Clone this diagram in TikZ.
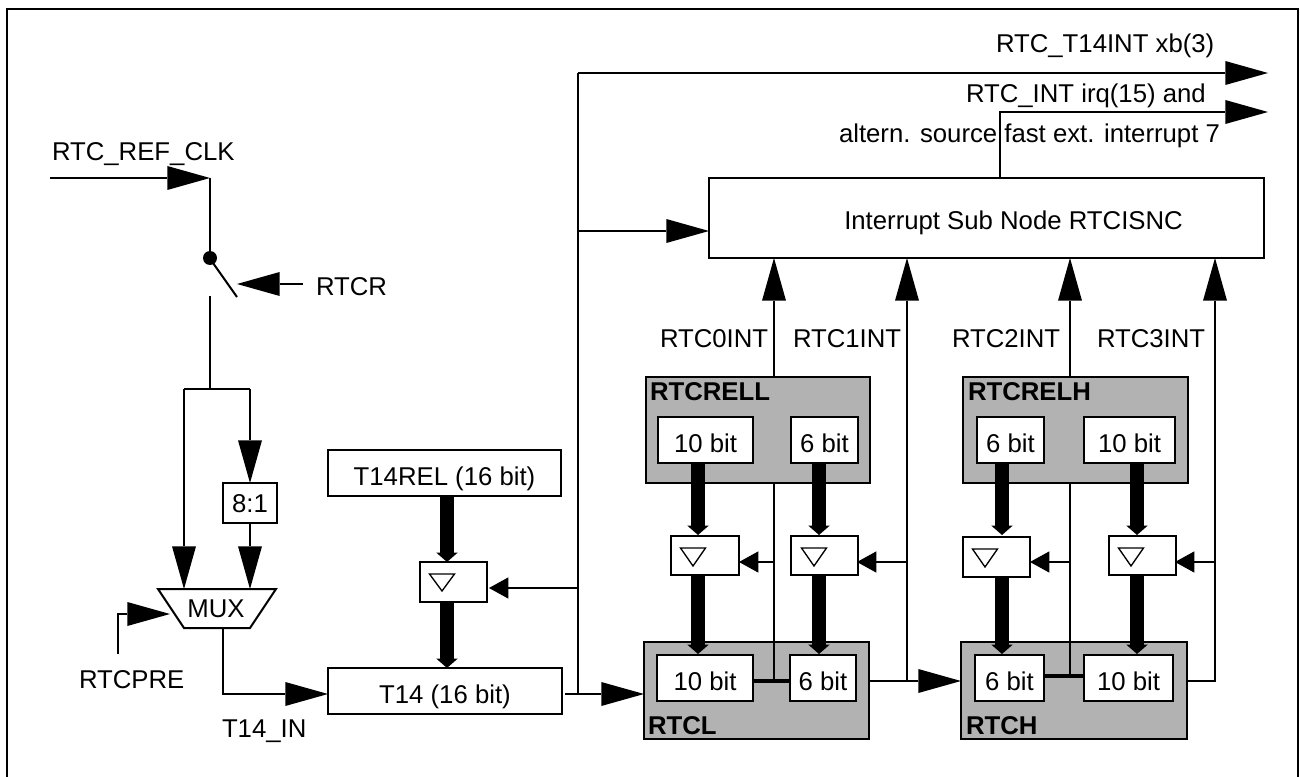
\documentclass[tikz,border=0pt]{standalone}
\usepackage{fontspec}
\setmainfont{Liberation Sans}
\usetikzlibrary{arrows.meta,calc}
\definecolor{regfill}{gray}{0.7}
\tikzset{
  x=0.75pt,y=-0.75pt,
  every node/.style={font=\fontsize{19.3}{23}\selectfont,inner sep=0pt,outer sep=0pt},
  ln/.style={line width=1.5pt,line cap=butt,line join=miter},
  harrow/.style={ln,-{Triangle[length=32pt,width=18pt,line width=0pt]}},
  varrow/.style={ln,-{Triangle[length=32pt,width=18pt,line width=0pt]}},
  sarrow/.style={ln,-{Triangle[length=14.5pt,width=16pt,line width=0pt]}},
  busarrow/.style={line width=11pt,-{Triangle[length=7pt,width=16pt,line width=0pt]}},
  lab/.style={anchor=base west},
  blab/.style={anchor=base west,font=\fontsize{19.3}{23}\selectfont\bfseries},
  boxt/.style={draw,ln,fill=white,align=center,text height=18pt,text depth=0pt},
  reg/.style={draw,ln,fill=regfill},
}
\newcommand{\bx}[7][boxt]{% style,name,x1,y1,x2,y2,text
  \pgfmathsetmacro{\cxx}{(#3+#5)/2}\pgfmathsetmacro{\cyy}{(#4+#6)/2}
  \pgfmathsetmacro{\wdd}{(#5-#3)*0.75}\pgfmathsetmacro{\htt}{(#6-#4)*0.75}
  \node[#1,minimum width=\wdd pt,minimum height=\htt pt] (#2) at (\cxx,\cyy) {#7};}
\newcommand{\tri}[3]{\draw[line width=1pt,fill=white] (#1-12.5,#2) -- (#1+12.5,#2) -- (#1,#3) -- cycle;}
\begin{document}
\begin{tikzpicture}
\useasboundingbox (0,0) rectangle (1300,777);
% frame: open at the bottom edge of the picture
\coordinate (fa) at (6.5,777);
\coordinate (fb) at (6.5,9);
\coordinate (fc) at (1298,9);
\coordinate (fd) at (1298,777);
\draw[ln] (fa) -- (fb) -- (fc) -- (fd);
% grey registers
\bx[reg]{rell}{646}{377}{870}{483}{}
\bx[reg]{relh}{963}{377}{1188}{483}{}
\bx[reg]{rl}{644}{642}{869}{739}{}
\bx[reg]{rh}{961}{642}{1187}{739}{}
% boxes
\bx{isn}{709}{178}{1264}{258}{\hspace*{40.5pt}Interrupt Sub Node RTCISNC}
\bx{trel}{328}{450}{561}{496}{T14REL (16 bit)}
\bx{t14}{328}{668}{562}{714}{T14 (16 bit)}
\bx[boxt,text height=13.5pt]{div}{223}{483}{277}{523}{8:1}
\bx{rella}{658}{417}{753}{463}{10 bit}
\bx{rellb}{791}{417}{858}{463}{6 bit}
\bx{relha}{977}{417}{1044}{463}{6 bit}
\bx{relhb}{1084}{417}{1175}{463}{10 bit}
\bx{rla}{657}{655}{753}{701}{10 bit}
\bx{rlb}{790}{655}{856}{701}{6 bit}
\bx{rha}{975}{655}{1044}{701}{6 bit}
\bx{rhb}{1084}{655}{1173}{701}{10 bit}
\bx{l0}{420}{562}{487}{602}{}
\bx{l1}{671}{536}{739}{575}{}
\bx{l2}{791}{536}{858}{575}{}
\bx{l3}{963}{537}{1030}{577}{}
\bx{l4}{1109}{536}{1176}{575}{}
\tri{442}{574}{591}
\tri{693}{548}{566}
\tri{814}{548}{566}
\tri{985}{549}{567}
\tri{1131}{548}{566}
% MUX
\coordinate (muxa) at (158,589);
\coordinate (muxb) at (276,589);
\coordinate (muxc) at (250,628);
\coordinate (muxd) at (184,628);
\draw[ln,fill=white] (muxa) -- (muxb) -- (muxc) -- (muxd) -- cycle;
\node[anchor=base] (mux) at (216,617) {MUX};
% free ends
\coordinate (clkin) at (50,178);
\coordinate (clkc) at (210,178);
\coordinate (swp) at (210,258);
\coordinate (swa) at (213,263);
\coordinate (swb) at (237,297);
\coordinate (swo) at (210,296);
\coordinate (fork) at (210,389);
\coordinate (forkl) at (184,389);
\coordinate (forkr) at (250,389);
\coordinate (rtcrs) at (303,284);
\coordinate (rtcrt) at (237,284);
\coordinate (pre) at (118,654);
\coordinate (pret) at (170,614);
\coordinate (muxo) at (223,628);
\coordinate (bustop) at (578,73);
\coordinate (busbot) at (578,694);
\coordinate (t14o) at (565,694);
\coordinate (out1) at (1268,73);
\coordinate (out2) at (1268,112);
\coordinate (isnup) at (1000,178);
% clock path
\draw[harrow] (clkin) -- (clkc);
\draw[ln] (clkc) -- (swp);
\fill (swp) circle[radius=7];
\draw[ln] (swa) -- (swb);
\draw[harrow] (rtcrs) -- (rtcrt);
\draw[ln] (swo) -- (fork);
\draw[ln] (forkl) -- (forkr);
\draw[varrow] (forkl) -- (forkl |- muxa);
\draw[varrow] (forkr) -- (forkr |- div.north);
\draw[varrow] (div.south) -- (forkr |- muxa);
\draw[harrow] (pre) |- (pret);
\draw[harrow] (muxo) |- (t14.west |- t14o);
% 16 bit bus
\draw[ln] (t14o) -- (busbot) -- (bustop);
\draw[harrow] (bustop) -- (out1);
\draw[harrow] (578,231) -- (isn.west |- 0,231);
\draw[sarrow] (578,588) -- (489,588);
\draw[harrow] (busbot) -- (rl.west |- busbot);
% interrupt output
\draw[harrow] (isnup) |- (out2);
% thick buses
\draw[busarrow] (trel.south -| 447,0) -- (447,562);
\draw[busarrow] (447,602) -- (447,668);
\foreach \x/\a/\b in {698/463/535,819/463/535,1002/463/535,1137/463/535,698/575/654,819/575/654,1002/577/654,1137/575/654}
  \draw[busarrow] (\x,\a) -- (\x,\b);
% links
\draw[line width=2.6pt] (rla.east |- 0,681) -- (rlb.west |- 0,681);
\draw[line width=2.6pt] (rha.east |- 0,676) -- (rhb.west |- 0,676);
% interrupts
\draw[harrow] (rell.north -| 774,0) -- (774,258);
\draw[ln] (rell.south -| 774,0) -- (774,681);
\draw[harrow] (907,681) -- (907,258);
\draw[harrow] (relh.north -| 1070,0) -- (1070,258);
\draw[ln] (relh.south -| 1070,0) -- (1070,676);
\draw[harrow] (rh.east |- 0,681) -| (1215,258);
\draw[harrow] (rl.east |- 0,681) -- (rh.west |- 0,681);
\draw[sarrow] (774,562) -- (739,562);
\draw[sarrow] (907,562) -- (857,562);
\draw[sarrow] (1070,562) -- (1030,562);
\draw[sarrow] (1215,562) -- (1175,562);
% labels
\node[lab] at (52,161) {RTC\_REF\_CLK};
\node[lab] at (316,296) {RTCR};
\node[lab] at (79,688) {RTCPRE};
\node[lab] at (222,737) {T14\_IN};
\node[lab] at (996,53) {RTC\_T14INT xb(3)};
\node[lab] at (966,103) {RTC\_INT irq(15) and};
\node[lab] at (839,143) {altern. source fast ext. interrupt 7};
\node[lab] at (660,348) {RTC0INT};
\node[lab] at (793,348) {RTC1INT};
\node[lab] at (952,348) {RTC2INT};
\node[lab] at (1097,348) {RTC3INT};
\node[blab] at (650,401) {RTCRELL};
\node[blab] at (968,401) {RTCRELH};
\node[blab] at (648,734) {RTCL};
\node[blab] at (966,734) {RTCH};
\end{tikzpicture}
\end{document}
